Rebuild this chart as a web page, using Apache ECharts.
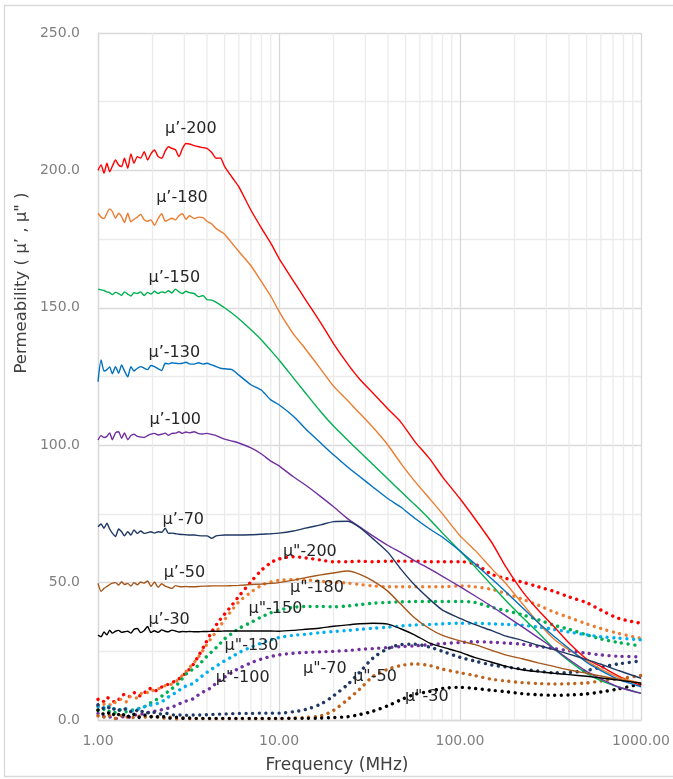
<!DOCTYPE html>
<html>
<head>
<meta charset="utf-8">
<script src="https://cdn.jsdelivr.net/npm/echarts@6/dist/echarts.min.js"></script>
<style>
  html, body { margin: 0; padding: 0; background: #fff; }
  #main { width: 673px; height: 779px; }
</style>
</head>
<body>
<div id="main"></div>
<script>
// frequency (MHz) of the real-part curves, dense where they are noisy
var freqReal = [1.00,1.04,1.08,1.12,1.16,1.20,1.25,1.30,1.35,1.40,
  1.46,1.52,1.58,1.65,1.72,1.80,1.88,1.96,2.05,2.15,
  2.25,2.35,2.45,2.56,2.68,2.80,2.93,3.06,3.20,3.40,
  3.60,3.80,4.00,4.25,4.50,4.75,5.0,
  5.5,6,7,8,9,10,12,14,17,20,
  24,28,33,40,47,56,68,80,100,120,
  150,180,220,270,330,400,500,600,750,1000];

// μ' values
var muR200 = [200,202,199,202.6,199.5,201.5,203.8,202,201.4,204.4,
  200.8,206,202.6,205,204.5,206.8,203.8,206,207.4,205,
  204.4,207,208.6,208,207.5,205,208,209.8,209.6,209,
  208.6,208.3,208,206.5,204.4,204.5,201.5,
  197.5,194,185.5,179,173.5,168,159.8,153,144.5,137,
  129.5,123.9,119,113.2,108.5,101.5,95,88.5,80.5,73.5,
  64.5,55.5,47,40,34,28,22.2,19.5,16,12.5];
var muR180 = [184.4,183,182.5,184.4,186,185,182.6,184.4,183.2,181,
  184.4,181.3,182.2,183,184,182,181.5,182,180,182.5,
  184.2,181.5,182,182.6,182,183.5,184.2,182.2,183.5,182.5,
  183,182.8,181.5,180.5,178.8,177.8,176.8,
  173.5,170.5,165.3,159.5,154.3,148.7,140.5,135,127.7,121.5,
  116.2,111.5,106.5,100,93.5,87,80.5,75,67,62,
  55,49.5,42.5,35.5,29.5,25.5,21.5,18.5,15.5,13.4];
var muR150 = [156.8,156.5,156.3,155.8,155.5,154.8,155.6,155.2,154.5,155.8,
  155,154.3,155.5,155.2,155.8,154.5,155.6,155,156,155.2,
  155.8,155.5,156.2,155.4,156.8,155.8,155.2,156,155.5,155.2,
  154,154.5,153,152.8,152,151,150,
  148,146,142,138.3,134.5,131,124.5,119,112.2,107,
  101.8,97.5,93,87.7,83.2,78.5,73,68,61.5,56,
  49,43.3,37.5,31.8,26,21.5,17,14.3,12,9.7];
var muR130 = [123.1,131,127,127.5,128.5,126,128.6,126.2,129.2,127,
  124.9,128.6,127,128,128.6,128,127.5,129,128.6,127.8,
  127.2,129.8,129.6,130,129.8,129.7,129.8,130.2,129.6,129.5,
  130,129.5,129.8,129.2,128.6,128,127.8,
  127.5,125.5,122,120,116.5,114.7,110.5,106,100.8,96.5,
  92,88.5,84.8,80.5,77.5,73.5,69.5,66.5,61.5,57,
  51.3,46.5,41,35.5,30.5,26,21,18,14.8,12.1];
var muR100 = [101.9,103.5,102.8,103.2,104.5,102,104.5,104.9,102.5,104.5,
  102,103.5,104,103.2,103,102.8,103.5,104,104.3,103.7,
  104,104.4,103.6,104.3,104.4,104.9,104.3,104.8,104.5,104.9,
  104.2,104.1,104.3,103.9,103.5,102.8,102.2,
  101.5,100.8,99,96.8,94.2,92.5,88.5,85.5,81.3,77.6,
  73.2,70.2,67,63.5,61,58,55,52.3,48.5,45.3,
  41.3,37.8,34,30,26,22,17.7,15,12,9.7];
var muR70 = [70.3,71.3,69.8,71.6,69.5,68,66.8,69.5,68.5,67,
  68.5,67.3,69.2,67.9,68.8,67.9,68.2,68.5,68,68.5,
  68.3,69.8,67.9,68,67.8,67.6,67.5,67.4,67.3,67.3,
  67.1,67,67,66.1,67,67.2,67.3,
  67.3,67.3,67.4,67.6,67.8,68,68.8,69.8,71,72.2,
  72.3,70,66,61,55,49.2,43.9,40,37,34.8,
  32.5,30.5,29,27.2,25.6,24,22,20.3,18,15.2];
var muR50 = [49.7,46.8,47.9,48.6,49.3,49.8,50,49.1,50.3,49.3,
  49.7,48.7,50,49.2,50.2,49.8,50.6,48.6,50.2,48.3,
  49.6,48.7,48.3,47.9,48.9,48.6,48.5,48.6,48.5,48.5,
  48.6,48.7,48.7,48.8,48.8,48.8,48.8,
  48.9,49,49.3,49.5,49.7,50,50.9,51.8,52.8,53.5,
  54.2,53,50.6,46.8,42.2,37.2,33.2,30.8,28.8,27.5,
  25.3,23.6,22.3,20.8,19.5,18.2,17,16,14.8,13.4];
var muR30 = [30.9,30.3,32,31,32.7,31.6,32.3,32.6,31.9,32.1,
  32.3,31.6,33,33.3,31.8,32.6,34,31.8,32.5,31.9,
  32.8,32.3,32.1,32.7,32.4,32,32.2,32.1,32.2,32.1,
  32.1,32.2,32.2,32.3,32.3,32.3,32.4,
  32.4,32.4,32.4,32.4,32.4,32.3,32.6,33,33.5,34.1,
  34.6,35,35.2,34.9,33.2,31,28,26.5,24.7,22.8,
  21,19.5,18.3,17.6,17,16.5,15.9,15.3,14.5,13.4];

// frequency (MHz) of the imaginary-part curves
var freqImag = [1.00,1.06,1.12,1.19,1.26,1.34,1.42,1.50,1.60,1.70,
  1.80,1.92,2.05,2.20,2.35,2.50,2.70,2.90,3.10,3.35,
  3.60,3.90,4.20,4.60,5.0,5.5,6,7,8,9,
  10,12,14,17,20,24,28,33,40,47,
  56,68,80,100,120,150,180,220,270,330,
  400,500,600,750,1000];

// μ'' values
var muI200 = [7.5,6.5,8.2,7,6.5,8.5,9.5,8.5,10,8.8,
  9.8,11.5,10.5,11.8,12.3,13.5,14.2,15.8,17.5,20.1,
  23.5,27.5,31.5,35.5,38.5,41.8,45,50.3,54.5,57.2,
  58.6,59.4,59,58.2,57.6,57.6,57.8,57.6,57.8,57.8,
  57.8,57.6,57.6,57.6,56.8,53,51.5,50.2,48.5,46.8,
  44.8,42.7,40,37,35.2];
var muI180 = [4.8,5.5,6.2,5.2,6.8,7.5,6.5,8.5,7.8,9.2,
  10.3,9.8,11.2,11.5,12.5,12.8,14,16,18,20.5,
  23,26.5,29.5,33,36.5,40,43,46.5,49,50.2,
  50.8,51.2,51,50.5,50.2,49.8,49.3,48.8,48.5,48.5,
  48.5,48.5,48.5,48.8,48.5,47.5,46,44,41.8,39.3,
  37.3,35,33.3,31.5,29.7];
var muI150 = [3.5,4.2,2.8,3.5,2.5,3.8,3,3.2,4,4.3,
  4.8,6,7,8.3,9.5,11,12.5,14.8,17,18.5,
  20,22.5,24.5,27,29.5,31.5,33.3,35.5,37.5,39,
  40,41,41.3,41.3,41.2,41.5,42,42.5,42.8,43,
  43.1,43.1,43.1,43.1,42.8,41,39.8,38.3,36.5,34.5,
  33,31,29.5,28.2,26.9];
var muI130 = [5,4.2,5.5,3.8,4.5,3.5,4,3.2,3.5,4.2,
  4.8,5.3,5.8,6.3,7.5,8.8,10,11.5,12.5,13.3,
  15,16.8,18.3,20,21.5,23,24.5,26.5,28,29.2,
  30,30.8,31.2,31.8,32.2,32.6,33,33.4,33.8,34.2,
  34.6,34.8,35,35.2,35.2,35,34.8,34.5,33.8,33,
  32,31,30.3,29.8,29.2];
var muI100 = [2.4,1.5,0.8,1.2,0.6,1,1.3,1,1.8,2,
  2.4,2.8,3.2,3.6,4,4.5,5.3,6.3,7,7.7,
  9.2,10.6,11.7,14,15.6,17.3,18.8,20.8,22.2,23.1,
  23.7,24.3,24.6,24.8,25,25.3,25.7,26,26.4,26.7,
  27,27.4,27.8,28.2,28.5,28.3,28,27.6,26.8,26,
  25.2,24.3,23.7,23.2,23];
var muI70 = [5.5,4.2,5,3.5,4.5,3.2,4,3,3.8,2.6,
  3.5,2.4,2.8,2.2,2.5,2,1.8,1.8,1.7,1.8,
  1.8,1.9,2,2.1,2.2,2.3,2.4,2.4,2.5,2.5,
  2.5,3,3.8,5.8,8.8,13,17.5,22.5,26,27.4,
  27.6,26.5,25,22.8,21.5,20,19.3,18.5,17.8,17.2,
  17.3,18,19.2,20.4,21.5];
var muI50 = [1.5,0.8,2,1.2,0.5,1.5,0.8,1.6,0.6,1.4,
  1,1.6,0.7,1.3,0.6,1,0.4,0.8,0.5,0.5,
  0.5,0.5,0.5,0.5,0.5,0.5,0.5,0.5,0.5,0.5,
  0.5,0.7,0.9,1.5,3.5,7.5,11.3,15.8,18.5,19.8,
  20.4,19.8,18.5,17.2,16.2,14.8,14.2,13.6,13.3,13.1,
  13.2,13.5,14.2,15,16.2];
var muI30 = [3.6,2.2,3,1.5,2.8,1.2,2.4,1,2.2,0.9,
  1.8,1,1.6,0.8,1.3,0.7,1,0.6,0.8,0.6,
  0.6,0.6,0.6,0.6,0.6,0.6,0.6,0.6,0.6,0.6,
  0.6,0.6,0.6,0.7,0.9,1.2,2,3.2,5.2,7.3,
  9.3,10.4,11.5,11.9,11.5,10.8,10.3,9.6,9.2,9,
  9.1,9.5,10.2,11.3,13.2];

var realNames = ['μ’-200','μ’-180','μ’-150','μ’-130','μ’-100','μ’-70','μ’-50','μ’-30'];
var realValues = [muR200, muR180, muR150, muR130, muR100, muR70, muR50, muR30];
var realColors = ['#ff0000','#ed7d31','#00b050','#0070c0','#7030a0','#1f3864','#a5561b','#000000'];

var imagNames = ['μ"-200','μ"-180','μ"-150','μ"-130','μ"-100','μ"-70','μ"-50','μ"-30'];
var imagValues = [muI200, muI180, muI150, muI130, muI100, muI70, muI50, muI30];
var imagColors = ['#ff0000','#ed7d31','#00b050','#00b0f0','#7030a0','#1f3864','#c0631c','#000000'];

// curve labels, anchored in data space (MHz, value)
var labelText = realNames.concat(imagNames);
var labelFreq = [3.26,2.91,2.64,2.64,2.67,2.96,3.0,2.47, 14.8,16.2,9.55,7.05,6.3,17.9,33.9,65.5];
var labelVal  = [215.3,190,160.8,133.6,109.3,72.8,53.4,36.4, 61.3,48.1,40.4,27.0,15.3,18.6,15.7,8.5];

// gridlines between the decades
var minorFreq = [2,3,4,5,6,7,8,9, 20,30,40,50,60,70,80,90, 200,300,400,500,600,700,800,900];

var FONT = '"DejaVu Sans", sans-serif';
var MINOR = '#ebebeb';

var chart = echarts.init(document.getElementById('main'));

function pairs(freq, vals) {
  return freq.map(function (f, i) { return [f, vals[i]]; });
}

var series = [{
  // draws the light vertical gridlines through the log scale
  type: 'custom',
  z: 1,
  silent: true,
  data: minorFreq,
  encode: { x: 0 },
  renderItem: function (params, api) {
    var top = api.coord([api.value(0), 250]);
    var bottom = api.coord([api.value(0), 0]);
    return {
      type: 'line',
      shape: { x1: top[0], y1: top[1], x2: bottom[0], y2: bottom[1] },
      style: { stroke: MINOR, lineWidth: 1.3 }
    };
  }
}];

realValues.forEach(function (vals, k) {
  series.push({
    name: realNames[k],
    type: 'line',
    data: pairs(freqReal, vals),
    showSymbol: false,
    smooth: 0.2,
    z: 3,
    lineStyle: { color: realColors[k], width: 1.4 },
    itemStyle: { color: realColors[k] }
  });
});

imagValues.forEach(function (vals, k) {
  series.push({
    name: imagNames[k],
    type: 'line',
    data: pairs(freqImag, vals),
    showSymbol: false,
    smooth: 0.3,
    z: 2,
    lineStyle: { color: imagColors[k], width: 3.4, type: [0.01, 6.6], cap: 'round' },
    itemStyle: { color: imagColors[k] }
  });
});

chart.setOption({
  animation: false,
  backgroundColor: '#ffffff',
  grid: { left: 98, right: 26, top: 33, bottom: 59 },
  xAxis: {
    type: 'log',
    logBase: 10,
    min: 1,
    max: 1000,
    axisLine: { show: true, lineStyle: { color: '#d9d9d9', width: 1.3 } },
    axisTick: { show: false },
    axisLabel: {
      color: '#7f7f7f', fontSize: 14, fontFamily: FONT, margin: 14,
      formatter: function (v) { return v.toFixed(2); }
    },
    splitLine: { show: true, lineStyle: { color: '#d9d9d9', width: 1.3 } }
  },
  yAxis: {
    type: 'value',
    min: 0,
    max: 250,
    interval: 50,
    axisLine: { show: true, lineStyle: { color: '#d9d9d9', width: 1.3 } },
    axisTick: { show: false },
    axisLabel: {
      color: '#7f7f7f', fontSize: 14, fontFamily: FONT, margin: 18,
      formatter: function (v) { return v.toFixed(1); }
    },
    splitLine: { show: true, lineStyle: { color: '#d9d9d9', width: 1.3 } },
    minorTick: { show: false, splitNumber: 2 },
    minorSplitLine: { show: true, lineStyle: { color: MINOR, width: 1.3 } }
  },
  series: series
});

// border, axis titles and curve labels
var graphics = [{
  type: 'rect',
  silent: true,
  shape: { x: 4.5, y: 5.5, width: 700, height: 771 },
  style: { fill: 'none', stroke: '#d9d9d9', lineWidth: 1.3 }
}, {
  type: 'text',
  x: 22, y: 283,
  rotation: Math.PI / 2,
  style: {
    text: 'Permeability ( μ’ , μ" )', fill: '#404040', font: '16.5px ' + FONT,
    align: 'center', verticalAlign: 'middle', textAlign: 'center', textVerticalAlign: 'middle'
  }
}, {
  type: 'text',
  x: 337, y: 766,
  style: {
    text: 'Frequency (MHz)', fill: '#404040', font: '17px ' + FONT,
    align: 'center', verticalAlign: 'middle', textAlign: 'center', textVerticalAlign: 'middle'
  }
}];

labelText.forEach(function (t, i) {
  var p = chart.convertToPixel({ gridIndex: 0 }, [labelFreq[i], labelVal[i]]);
  graphics.push({
    type: 'text',
    x: p[0], y: p[1],
    z: 10,
    style: {
      text: t, fill: '#262626', font: '16px ' + FONT,
      align: 'center', verticalAlign: 'middle', textAlign: 'center', textVerticalAlign: 'middle'
    }
  });
});

chart.setOption({ graphic: graphics });
</script>
</body>
</html>
